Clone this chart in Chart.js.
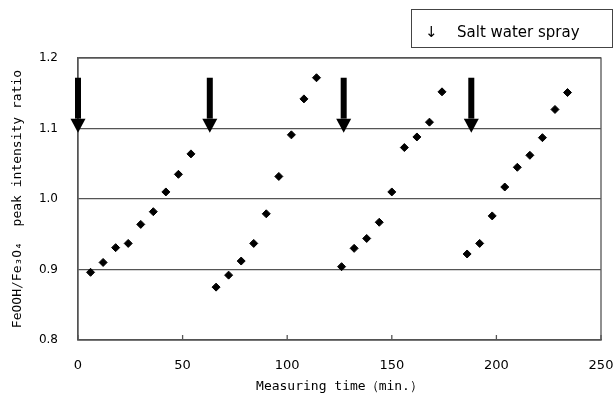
<!DOCTYPE html>
<html>
<head>
<meta charset="utf-8">
<script src="https://cdn.jsdelivr.net/npm/chart.js@4"></script>
<style>
  body { margin: 0; background: #fff; }
</style>
</head>
<body>
<canvas id="ratio-chart" width="614" height="398"></canvas>
<script>
// measuring time (min.) and FeOOH/Fe3O4 ratio for each wet/dry cycle
const times1 = [6, 12, 18, 24, 30, 36, 42, 48, 54];
const ratio1 = [0.896, 0.910, 0.931, 0.937, 0.964, 0.982, 1.010, 1.035, 1.064];
const times2 = [66, 72, 78, 84, 90, 96, 102, 108, 114];
const ratio2 = [0.875, 0.892, 0.912, 0.937, 0.979, 1.032, 1.091, 1.142, 1.172];
const times3 = [126, 132, 138, 144, 150, 156, 162, 168, 174];
const ratio3 = [0.904, 0.930, 0.944, 0.967, 1.010, 1.073, 1.088, 1.109, 1.152];
const times4 = [186, 192, 198, 204, 210, 216, 222, 228, 234];
const ratio4 = [0.922, 0.937, 0.976, 1.017, 1.045, 1.062, 1.087, 1.127, 1.151];
const sprayTimes = [0, 63, 127, 188];
const sprayLabel = 'Salt water spray';

const FONT = "'DejaVu Sans', sans-serif";
const MONO = "'DejaVu Sans Mono', monospace";

const points = [];
[[times1, ratio1], [times2, ratio2], [times3, ratio3], [times4, ratio4]].forEach(([t, r]) => {
  t.forEach((x, i) => points.push({ x: x, y: r[i] }));
});

// frame, inward x ticks, spray arrows and the legend box
const decor = {
  id: 'decor',
  afterDraw(chart) {
    const { ctx, chartArea: a, scales: { x, y } } = chart;
    ctx.save();
    ctx.strokeStyle = '#555';
    ctx.lineWidth = 1.3;
    ctx.strokeRect(a.left, a.top, a.right - a.left, a.bottom - a.top);
    x.ticks.forEach((t) => {
      const px = x.getPixelForValue(t.value);
      ctx.beginPath();
      ctx.moveTo(px, a.bottom);
      ctx.lineTo(px, a.bottom - 5);
      ctx.stroke();
    });

    ctx.fillStyle = '#000';
    const top = y.getPixelForValue(1.172);
    const neck = y.getPixelForValue(1.114);
    const tip = y.getPixelForValue(1.094);
    sprayTimes.forEach((t) => {
      const px = x.getPixelForValue(t);
      ctx.fillRect(px - 3, top, 6, neck - top);
      ctx.beginPath();
      ctx.moveTo(px - 7.5, neck);
      ctx.lineTo(px + 7.5, neck);
      ctx.lineTo(px, tip);
      ctx.closePath();
      ctx.fill();
    });

    ctx.strokeStyle = '#444';
    ctx.lineWidth = 1;
    ctx.strokeRect(411.5, 9.5, 201, 38);
    ctx.font = '15px ' + FONT;
    ctx.textBaseline = 'middle';
    ctx.fillText('↓', 425, 33);
    ctx.fillText(sprayLabel, 457, 33);
    ctx.restore();
  },
};

const ratioChart = new Chart('ratio-chart', {
  type: 'scatter',
  data: {
    datasets: [{
      data: points,
      pointStyle: 'rectRot',
      pointRadius: 4,
      backgroundColor: '#000',
      borderColor: '#000',
    }],
  },
  options: {
    responsive: false,
    animation: false,
    layout: { padding: { top: 58, right: 13, left: 0, bottom: 0 } },
    plugins: {
      legend: { display: false },
      tooltip: { enabled: false },
    },
    scales: {
      x: {
        type: 'linear',
        min: 0,
        max: 250,
        ticks: { stepSize: 50, color: '#000', padding: 18, font: { family: FONT, size: 13 } },
        grid: { drawOnChartArea: false, drawTicks: false },
        border: { color: '#555', width: 1.3 },
        title: {
          display: true,
          text: 'Measuring time（min.）',
          color: '#000',
          font: { family: MONO, size: 13 },
          padding: { top: 2 },
        },
        afterFit(scale) {
          scale.height = 58;
          scale.paddingLeft = 0;
          scale.paddingRight = 0;
        },
      },
      y: {
        min: 0.8,
        max: 1.2,
        ticks: {
          stepSize: 0.1,
          color: '#000',
          padding: 20,
          font: { family: FONT, size: 12 },
          callback: (v) => v.toFixed(1),
        },
        grid: { color: '#555', lineWidth: 1.3, drawTicks: false },
        border: { color: '#555', width: 1.3 },
        title: {
          display: true,
          text: 'FeOOH/Fe₃O₄  peak intensity ratio',
          color: '#000',
          font: { family: MONO, size: 13 },
          padding: { top: 10, bottom: 0 },
        },
        afterFit(scale) {
          scale.width = 78;
          scale.paddingTop = 0;
          scale.paddingBottom = 0;
        },
      },
    },
  },
  plugins: [decor],
});
</script>
</body>
</html>
